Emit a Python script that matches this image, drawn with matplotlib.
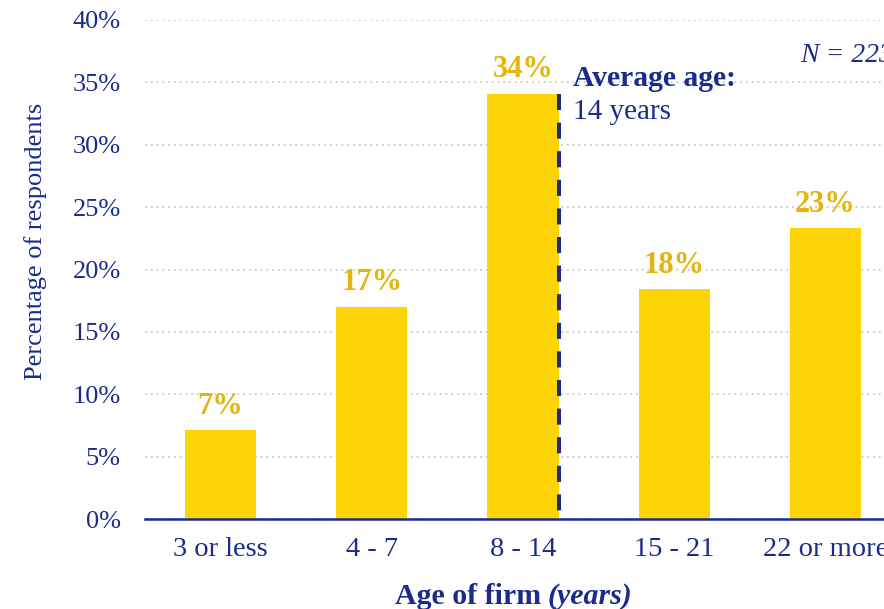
import matplotlib.pyplot as plt

plt.rcParams['font.family'] = ['Liberation Serif', 'DejaVu Serif']

# Data
age_groups = ["3 or less", "4 - 7", "8 - 14", "15 - 21", "22 or more"]
share = [7.1, 17.0, 34.1, 18.4, 23.3]
share_labels = ["7%", "17%", "34%", "18%", "23%"]
y_ticks = [0, 5, 10, 15, 20, 25, 30, 35, 40]
avg_pos = 2.24          # average age of 14 years, at the right edge of "8 - 14"
n_text = "N = 223"

navy = "#1A2B8C"
bar_col = "#FDD405"
lab_col = "#E3B60F"
grid_col = "#C9C9C9"

fig = plt.figure(figsize=(8.84, 6.09), dpi=100)
ax = fig.add_axes([145 / 884, 90 / 609, 756 / 884, 499 / 609])

x = range(len(age_groups))
ax.bar(x, share, width=0.47, color=bar_col, zorder=2)

for i, v in enumerate(share):
    ax.annotate(share_labels[i], (i, v), xytext=(0, 17.5), textcoords="offset points",
                ha="center", va="center", fontsize=22, fontweight="bold", color=lab_col)

# average age marker
ax.plot([avg_pos, avg_pos], [share[2], 0], color=navy, lw=2.9,
        dashes=(4.0, 3.1), zorder=3)

ax.set_xlim(-0.5, 4.5)
ax.set_ylim(0, 40)
ax.set_yticks(y_ticks)
ax.set_yticklabels([f"{t}%" for t in y_ticks])
ax.set_xticks(list(x))
ax.set_xticklabels(age_groups)
ax.tick_params(axis="y", length=0, pad=17.5, labelsize=19, labelcolor=navy)
ax.tick_params(axis="x", length=0, pad=13, labelsize=20.5, labelcolor=navy)

ax.grid(axis="y", color=grid_col, linestyle=(0, (1, 2.2)), lw=1.3, zorder=0)
ax.set_axisbelow(True)
for s in ["top", "right", "left"]:
    ax.spines[s].set_visible(False)
ax.spines["bottom"].set_color(navy)
ax.spines["bottom"].set_linewidth(1.8)
ax.spines["bottom"].set_zorder(4)

# labels
fig.text(36 / 884, 1 - 241 / 609, "Percentage of respondents", rotation=90,
         ha="center", va="center", fontsize=19, color=navy)
fig.text(541 / 884, 1 - 596 / 609, "Age of firm", ha="right", va="center",
         fontsize=21.5, fontweight="bold", color=navy)
fig.text(548 / 884, 1 - 596 / 609, "(years)", ha="left", va="center",
         fontsize=21.5, fontweight="bold", style="italic", color=navy)

fig.text(573 / 884, 1 - 79 / 609, "Average age:", ha="left", va="center",
         fontsize=21.3, fontweight="bold", color=navy)
fig.text(573 / 884, 1 - 112 / 609, "14 years", ha="left", va="center",
         fontsize=21, color=navy)
fig.text(800 / 884, 1 - 55 / 609, n_text, ha="left", va="center",
         fontsize=20, style="italic", color=navy)

fig.savefig("out.png", dpi=100)
